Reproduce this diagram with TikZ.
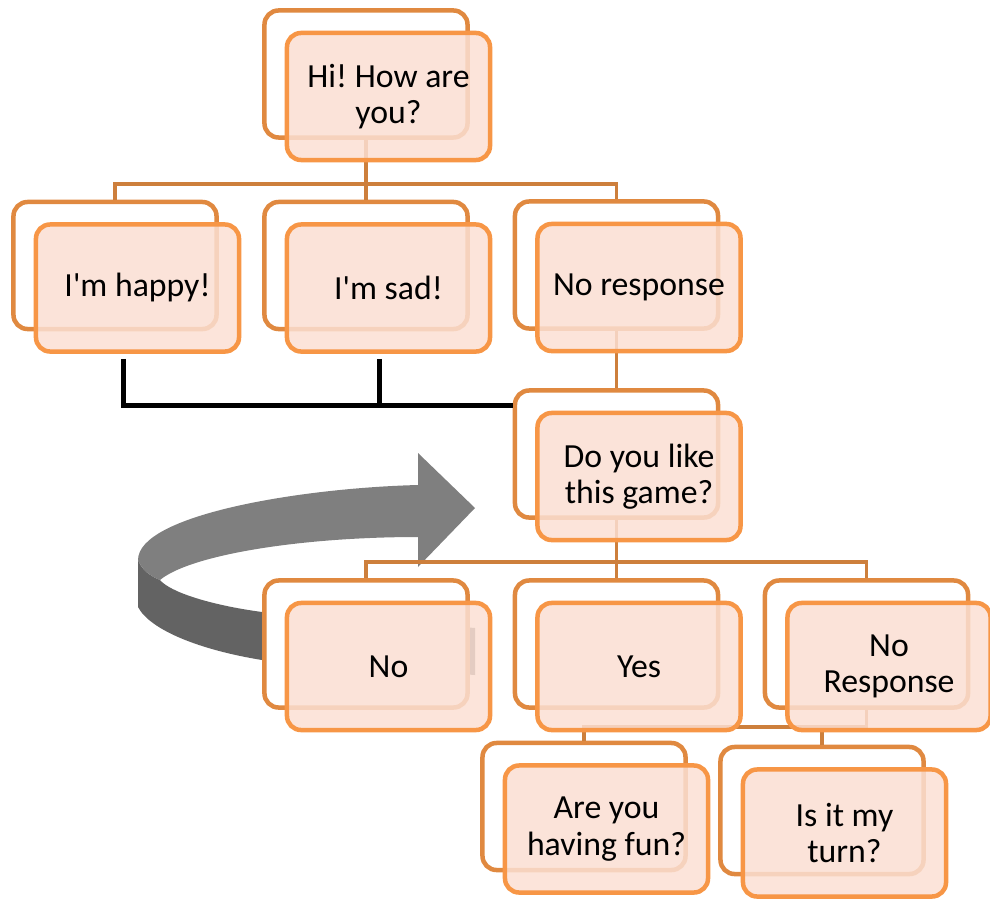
\documentclass[tikz,border=0pt]{standalone}
\usepackage{fontspec}
\setmainfont{Carlito}
\usetikzlibrary{calc}
\frenchspacing
\definecolor{backcol}{RGB}{224,137,64}
\definecolor{frontcol}{RGB}{247,150,70}
\definecolor{fillcol}{RGB}{251,223,211}
\definecolor{linkcol}{RGB}{205,127,60}
\definecolor{arrtop}{RGB}{127,127,127}
\definecolor{arrside}{RGB}{99,99,99}
\tikzset{
  backbox/.style={rectangle,rounded corners=10pt,draw=backcol,fill=white,line width=3.2pt,minimum width=5.075cm,minimum height=3.175cm,inner sep=0pt},
  frontbox/.style={backbox,draw=frontcol,fill=fillcol,fill opacity=0.85,text opacity=1,align=center,font=\fontsize{24}{26}\selectfont},
  link/.style={draw=linkcol,line width=2.8pt},
  blk/.style={draw=black,line width=3.4pt}
}
% name / x / y / text (pixel grid, y down)
\def\boxlist{hi/366/74/{Hi! How are\\you?},happy/115/265.5/{I\textquotesingle m happy!},sad/366/265.5/{I\textquotesingle m sad!},nores/616.5/265/{No response},like/616.5/454/{Do you like\\this game?},no/366/644/{No},yes/616.5/644/{Yes},noresb/866.5/644/{No\\Response},fun/584/806.5/{Are you\\having fun?},turn/822/810.5/{Is it my\\turn?}}

\begin{document}
\begin{tikzpicture}[x=0.025cm,y=-0.025cm]
\useasboundingbox (0,0) rectangle (990,899);
% curved arrow behind the boxes
\fill[arrside] (138,560) -- (138,607) .. controls (150,630) and (200,650) .. (262,660) -- (475,675) -- (475,628) -- (262,612) .. controls (210,605) and (170,592) .. (160,580) .. controls (150,576) and (142,570) .. (138,560) -- cycle;
\fill[arrtop] (418,485) .. controls (300,488) and (138,515) .. (138,560) .. controls (142,570) and (150,576) .. (160,580) .. controls (190,555) and (300,537) .. (418,537) -- (418,567) -- (475,508) -- (418,453) -- cycle;
% back boxes
\foreach \n/\x/\y/\t in \boxlist{\node[backbox](\n B) at (\x,\y){};}
% tree links
\draw[link] (hiB.south) -- ++(0,44) coordinate (hbus) -| (happyB.north);
\draw[link] (hbus) -| (noresB.north);
\draw[link] (hbus) -- (sadB.north);
\draw[link] (noresB.south) -- (likeB.north);
\draw[link] (likeB.south) -- ++(0,42) coordinate (lbus) -| (noB.north);
\draw[link] (lbus) -| (noresbB.north);
\draw[link] (lbus) -- (yesB.north);
\draw[link] (noresbB.south) -- ++(0,17) coordinate (rbus) -| (funB.north);
\draw[link] (rbus) -| (turnB.north);
% front boxes
\foreach \n/\x/\y/\t in \boxlist{\node[frontbox](\n F) at ($(\n B)+(22.5,22.5)$){\t};}
% black links into the second question
\draw[blk] ($(happyF.south)+(-14,5)$) |- ($(likeB.north west)+(0,17)$);
\draw[blk] ($(sadF.south)+(-9,5)$) -- ++(0,47);
\end{tikzpicture}
\end{document}
